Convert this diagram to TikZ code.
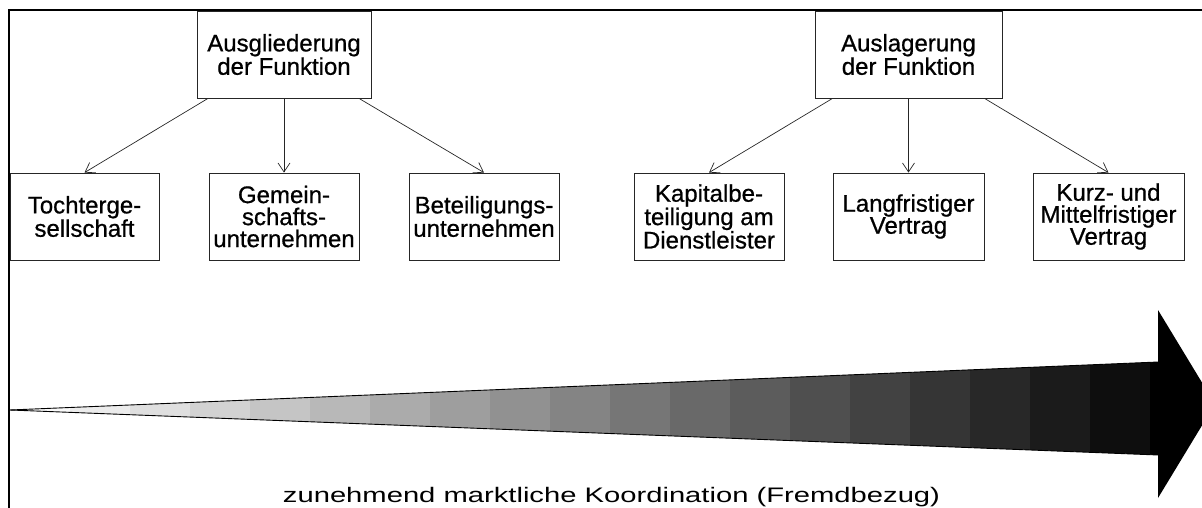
\documentclass[tikz,border=0pt]{standalone}
\usepackage{fontspec}
\setmainfont{Liberation Sans}
\newfontfamily\boxfont{Liberation Sans}[FakeBold=0.7]
\usepackage{graphicx}
\usepackage{pdfrender}
\usetikzlibrary{arrows.meta,calc}
\begin{document}
\begin{tikzpicture}[x=1pt,y=-1pt,
  box/.style={draw=black!85, line width=0.8pt, rectangle, inner sep=0pt, align=center,
    minimum height=87pt, font=\boxfont\fontsize{24}{22}\selectfont},
  conn/.style={draw=black!85, line width=0.7pt, -{Straight Barb[length=9pt,width=12pt]}}]
\useasboundingbox (0,0) rectangle (1202,508);
% frame
\draw[line width=2pt] (9,509) -- (9,10) -- (1203,10);
% boxes
\node[box, minimum width=174pt] (ausg) at (284,54.5) {Ausgliederung\\der Funktion};
\node[box, minimum width=187pt] (ausl) at (908.5,54.5) {Auslagerung\\der Funktion};
\node[box, minimum width=149pt] (toch) at (84.5,216.5) {Tochterge-\\sellschaft};
\node[box, minimum width=150pt] (gem) at (284,216.5) {Gemein-\\schafts-\\unternehmen};
\node[box, minimum width=150pt] (bet) at (484,216.5) {Beteiligungs-\\unternehmen};
\node[box, minimum width=150pt] (kap) at (709,216.5) {Kapitalbe-\\teiligung am\\Dienstleister};
\node[box, minimum width=151pt] (lang) at (908.5,216.5) {Langfristiger\\Vertrag};
\node[box, minimum width=151pt] (kurz) at (1108.5,216.5) {Kurz- und\\Mittelfristiger\\Vertrag};
% connectors
\draw[conn] ($(ausg.south)+(-76,0)$) -- (toch.north);
\draw[conn] (ausg.south) -- (gem.north);
\draw[conn] ($(ausg.south)+(75,0)$) -- (bet.north);
\draw[conn] ($(ausl.south)+(-76,0)$) -- (kap.north);
\draw[conn] (ausl.south) -- (lang.north);
\draw[conn] ($(ausl.south)+(76,0)$) -- (kurz.north);
% big gradient arrow
\foreach \i in {0,...,18}{
  \pgfmathsetmacro\xa{10+60*\i}
  \pgfmathsetmacro\xb{min(10+60*(\i+1)+0.4,1150)}
  \pgfmathsetmacro\ta{410-(48/1148)*(\xa-10)}
  \pgfmathsetmacro\tb{410-(48/1148)*(\xb-10)}
  \pgfmathsetmacro\ba{410+(45/1148)*(\xa-10)}
  \pgfmathsetmacro\bb{410+(45/1148)*(\xb-10)}
  \pgfmathtruncatemacro\g{250-13.1*\i}
  \definecolor{segc}{RGB}{\g,\g,\g}
  \fill[segc] (\xa,\ta) -- (\xb,\tb) -- (\xb,\bb) -- (\xa,\ba) -- cycle;
}
\fill[black] (1150,362.3) -- (1158,362) -- (1158,310) -- (1215,404) -- (1158,498)
  -- (1158,455) -- (1150,454.7) -- cycle;
\draw[line width=0.9pt] (10,410) -- (1158,362);
\draw[line width=0.9pt] (10,410) -- (1158,455);
% label
\node[anchor=base, inner sep=0pt] (lab) at (611.5,502)
  {\fontsize{21}{21}\selectfont\scalebox{1.39}[1]{\textpdfrender{TextRenderingMode=1,LineWidth=0.45,StrokeColor=black!80}{zunehmend marktliche Koordination (Fremdbezug)}}};
\end{tikzpicture}
\end{document}
